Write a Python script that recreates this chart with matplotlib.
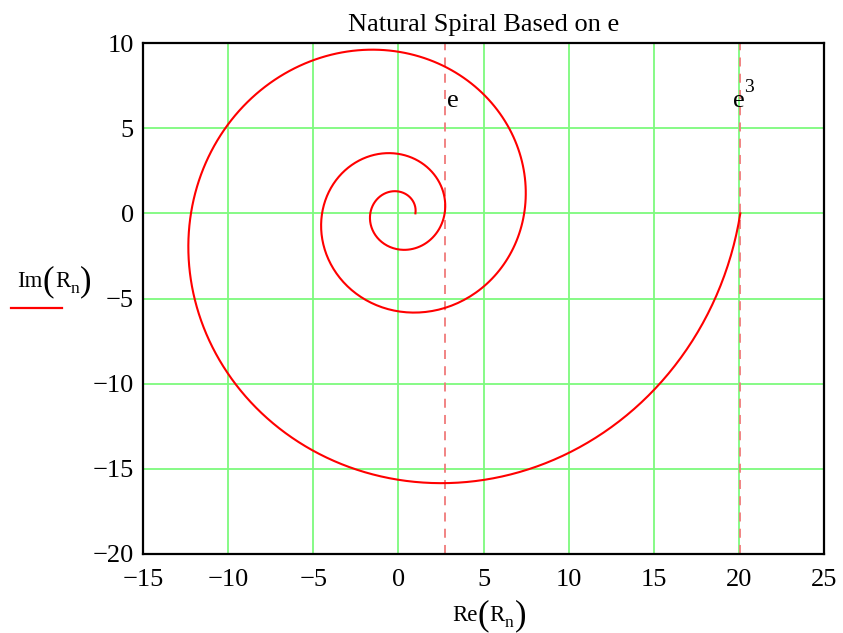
import numpy as np
import matplotlib
matplotlib.use("Agg")
import matplotlib.pyplot as plt

plt.rcParams['font.family'] = ['Liberation Serif', 'DejaVu Serif']
plt.rcParams['mathtext.fontset'] = 'stix'

# Data: natural spiral R_n = e^(theta/2pi) * e^(i*theta), three turns
turns = 3
n_points = 600
base = np.e
marker_x = [np.e, np.e ** 3]
xticks = [-15, -10, -5, 0, 5, 10, 15, 20, 25]
yticks = [-20, -15, -10, -5, 0, 5, 10]

theta = np.linspace(0, 2 * np.pi * turns, n_points)
R = base ** (theta / (2 * np.pi)) * np.exp(1j * theta)

W, H = 843, 633
fig = plt.figure(figsize=(W / 100, H / 100), dpi=100)
ax = fig.add_axes([143 / W, 1 - 554 / H, (824 - 143) / W, (554 - 43) / H])

ax.set_xlim(-15, 25)
ax.set_ylim(-20, 10)
ax.set_xticks(xticks)
ax.set_yticks(yticks)
ax.grid(True, color='#7dfa7d', linewidth=1.3)
ax.set_axisbelow(True)
ax.tick_params(length=0, labelsize=19)
ax.tick_params(axis='x', pad=11)
ax.tick_params(axis='y', pad=6.5)

for xv in marker_x:
    ax.axvline(xv, color='#f07a7a', linestyle=(0, (5, 4)), linewidth=1.3, zorder=2)

ax.plot(R.real, R.imag, color='#ff0000', linewidth=1.5, zorder=3)

for s in ax.spines.values():
    s.set_linewidth(1.6)
    s.set_color('black')

ax.set_title('Natural Spiral Based on e', fontsize=19, pad=9)

fig.canvas.draw()
renderer = fig.canvas.get_renderer()


def seq_text(x0_px, base_px, pieces):
    """Lay out text pieces left to right; x0_px, base_px in pixels from top-left."""
    x = x0_px
    for txt, size, dy, gap in pieces:
        t = fig.text(x / W, 1 - (base_px + dy) / H, txt, fontsize=size,
                     ha='left', va='baseline')
        x += t.get_window_extent(renderer).width + gap


def seq_width(pieces):
    tot = 0
    for txt, size, dy, gap in pieces:
        t = fig.text(0, 0, txt, fontsize=size)
        tot += t.get_window_extent(renderer).width + gap
        t.remove()
    return tot


im_pieces = [('Im', 16.5, 0, 0), ('(', 25, 3, 1), ('R', 16.5, 0, 0), ('n', 12.5, 6, 1), (')', 25, 3, 0)]
re_pieces = [('Re', 16.5, 0, 0), ('(', 25, 3, 1), ('R', 16.5, 0, 0), ('n', 12.5, 6, 1), (')', 25, 3, 0)]

seq_text(17, 287, im_pieces)
wre = seq_width(re_pieces)
seq_text(489 - wre / 2, 621, re_pieces)

fig.add_artist(matplotlib.lines.Line2D([11 / W, 62 / W], [1 - 308 / H, 1 - 308 / H],
                                       color='#ff0000', linewidth=1.6))

# marker labels
ax.text(2.85, 6.6, 'e', fontsize=19, ha='left', va='center')
ax.text(19.65, 6.6, 'e', fontsize=19, ha='left', va='center')
ax.text(20.33, 7.4, '3', fontsize=14, ha='left', va='center')

fig.savefig('out.png', dpi=100)
